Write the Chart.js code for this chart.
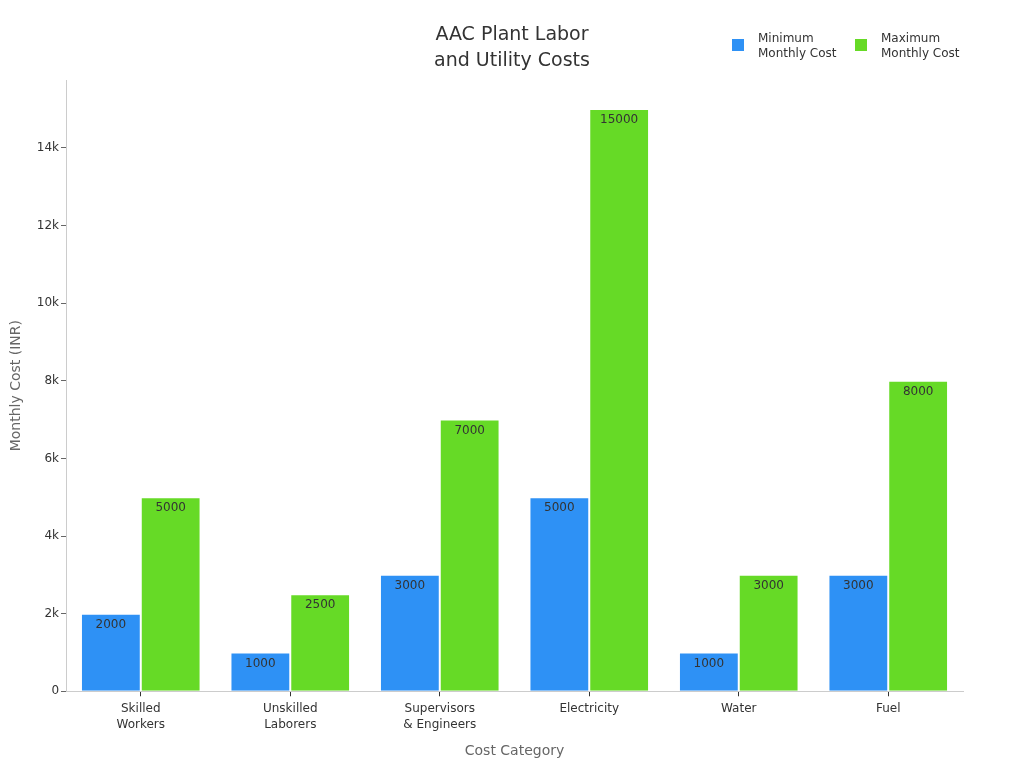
<!DOCTYPE html>
<html>
<head>
<meta charset="utf-8">
<script src="https://cdn.jsdelivr.net/npm/chart.js@4"></script>
<style>
  html, body { margin: 0; padding: 0; background: #fff; }
  #wrap { position: relative; width: 1024px; height: 768px; }
  .title { position: absolute; left: 312px; width: 400px; top: 20px; text-align: center; font-family: 'DejaVu Sans', sans-serif; font-size: 19px; line-height: 26px; color: #333; }
  .legend { position: absolute; top: 31px; font-family: 'DejaVu Sans', sans-serif; font-size: 12px; color: #333; line-height: 15px; }
  .legend .box { position: absolute; left: 0; top: 8px; width: 12px; height: 12px; }
  .legend .txt { position: absolute; left: 26px; top: 0; white-space: nowrap; }
</style>
</head>
<body>
<div id="wrap">
  <canvas id="chart" width="1024" height="768"></canvas>
  <div class="title">AAC Plant Labor<br>and Utility Costs</div>
  <div class="legend" style="left: 732px;"><div class="box" style="background:#2E91F5"></div><div class="txt">Minimum<br>Monthly Cost</div></div>
  <div class="legend" style="left: 855px;"><div class="box" style="background:#66DA26"></div><div class="txt">Maximum<br>Monthly Cost</div></div>
</div>
<script>
const categories = [['Skilled', 'Workers'], ['Unskilled', 'Laborers'], ['Supervisors', '& Engineers'], 'Electricity', 'Water', 'Fuel'];
const minCost = [2000, 1000, 3000, 5000, 1000, 3000];
const maxCost = [5000, 2500, 7000, 15000, 3000, 8000];
const yTicks = [0, 2000, 4000, 6000, 8000, 10000, 12000, 14000];

const FONT = "'DejaVu Sans', sans-serif";

// draws the value inside the top of each bar
const barValueLabels = {
  id: 'barValueLabels',
  afterDatasetsDraw(chart) {
    const ctx = chart.ctx;
    ctx.save();
    ctx.font = '12px ' + FONT;
    ctx.fillStyle = '#333';
    ctx.textAlign = 'center';
    ctx.textBaseline = 'middle';
    chart.data.datasets.forEach((ds, i) => {
      chart.getDatasetMeta(i).data.forEach((bar, j) => {
        ctx.fillText(String(ds.data[j]), bar.x, bar.y + 11);
      });
    });
    ctx.restore();
  }
};

new Chart(document.getElementById('chart'), {
  type: 'bar',
  data: {
    labels: categories,
    datasets: [
      { label: 'Minimum Monthly Cost', data: minCost, backgroundColor: '#2E91F5', borderColor: 'rgba(255,255,255,0.6)', borderWidth: 1 },
      { label: 'Maximum Monthly Cost', data: maxCost, backgroundColor: '#66DA26', borderColor: 'rgba(255,255,255,0.6)', borderWidth: 1 }
    ]
  },
  options: {
    responsive: false,
    animation: false,
    devicePixelRatio: 1,
    layout: { padding: { left: 4, right: 61, top: 80, bottom: 4 } },
    datasets: { bar: { barPercentage: 1, categoryPercentage: 0.8 } },
    plugins: {
      legend: { display: false },
      tooltip: { enabled: false },
      title: { display: false }
    },
    scales: {
      x: {
        grid: { display: true, offset: false, drawOnChartArea: false, drawTicks: true, tickLength: 5, color: '#333' },
        border: { color: '#ccc' },
        ticks: { color: '#333', font: { family: FONT, size: 12, lineHeight: 1.33 }, maxRotation: 0, padding: 5 },
        title: { display: true, text: 'Cost Category', color: '#666', font: { family: FONT, size: 14 }, padding: { top: 5 } }
      },
      y: {
        min: 0,
        max: 15750,
        afterBuildTicks(scale) { scale.ticks = yTicks.map(v => ({ value: v })); },
        grid: { display: true, drawOnChartArea: false, drawTicks: true, tickLength: 5, color: '#666' },
        border: { color: '#ccc' },
        ticks: {
          color: '#333',
          font: { family: FONT, size: 12 },
          padding: 2,
          callback: v => v === 0 ? '0' : (v / 1000) + 'k'
        },
        title: { display: true, text: 'Monthly Cost (INR)', color: '#666', font: { family: FONT, size: 14 }, padding: { bottom: 10 } }
      }
    }
  },
  plugins: [barValueLabels]
});
</script>
</body>
</html>
